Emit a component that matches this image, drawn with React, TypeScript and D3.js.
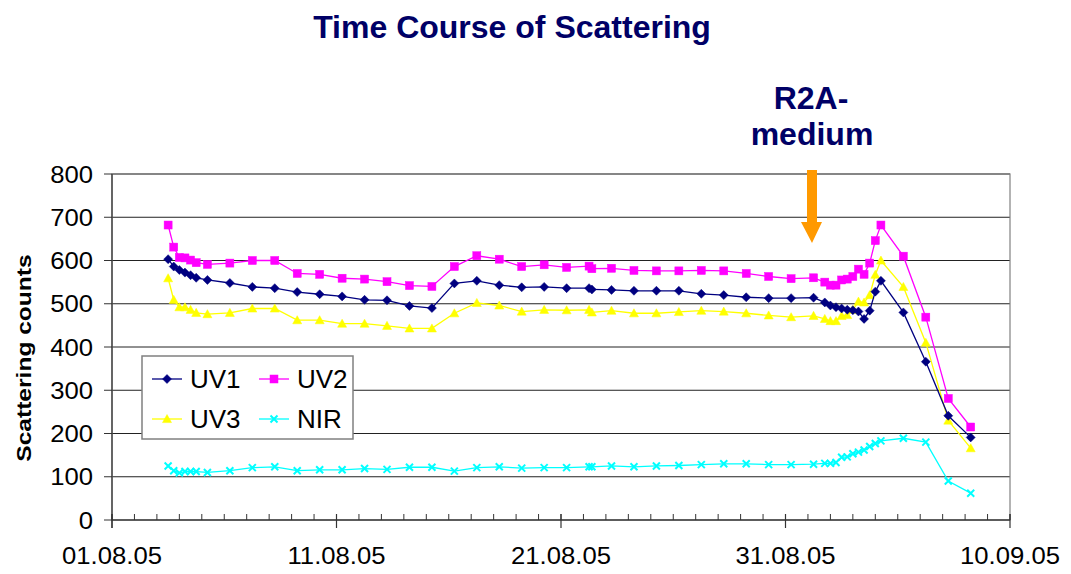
import React from "react";
import * as d3 from "d3";

const times: string[] = [
  "2005-08-03T12:00", "2005-08-03T18:00", "2005-08-04T00:00", "2005-08-04T06:00", "2005-08-04T12:00",
  "2005-08-04T18:00", "2005-08-05T06:00", "2005-08-06T06:00", "2005-08-07T06:00", "2005-08-08T06:00",
  "2005-08-09T06:00", "2005-08-10T06:00", "2005-08-11T06:00", "2005-08-12T06:00", "2005-08-13T06:00",
  "2005-08-14T06:00", "2005-08-15T06:00", "2005-08-16T06:00", "2005-08-17T06:00", "2005-08-18T06:00",
  "2005-08-19T06:00", "2005-08-20T06:00", "2005-08-21T06:00", "2005-08-22T06:00", "2005-08-22T09:00",
  "2005-08-23T06:00", "2005-08-24T06:00", "2005-08-25T06:00", "2005-08-26T06:00", "2005-08-27T06:00",
  "2005-08-28T06:00", "2005-08-29T06:00", "2005-08-30T06:00", "2005-08-31T06:00", "2005-09-01T06:00",
  "2005-09-01T18:00", "2005-09-02T00:00", "2005-09-02T06:00", "2005-09-02T12:00", "2005-09-02T18:00",
  "2005-09-03T00:00", "2005-09-03T06:00", "2005-09-03T12:00", "2005-09-03T18:00", "2005-09-04T00:00",
  "2005-09-04T06:00", "2005-09-05T06:00", "2005-09-06T06:00", "2005-09-07T06:00", "2005-09-08T06:00",
];

const uv1: number[] = [
  603, 586, 578, 572, 566, 560, 555, 548, 539, 536, 527, 522, 517, 509, 508, 495, 490, 547, 553,
  543, 538, 539, 536, 536, 533, 532, 530, 530, 530, 523, 520, 515, 513, 513,
  514, 503, 496, 492, 489, 486, 485, 482, 465, 484, 528, 553, 480, 366, 241, 191,
];
const uv2: number[] = [
  682, 631, 607, 606, 601, 595, 591, 594, 600, 600, 570, 568, 559, 557, 551, 542, 540, 586, 611,
  603, 586, 590, 584, 587, 581, 582, 577, 576, 576, 577, 576, 570, 563, 558,
  560, 550, 543, 543, 555, 557, 563, 580, 568, 594, 646, 682, 610, 469, 281, 215,
];
const uv3: number[] = [
  559, 509, 492, 492, 486, 479, 476, 479, 489, 489, 462, 462, 454, 454, 449, 443, 443, 478, 502,
  496, 482, 486, 485, 486, 480, 484, 478, 478, 481, 484, 482, 478, 473, 469,
  472, 465, 460, 460, 472, 474, 486, 505, 503, 520, 567, 600, 539, 410, 230, 166,
];
const nir: number[] = [
  125, 114, 109, 112, 112, 112, 110, 114, 121, 123, 114, 116, 116, 119, 117, 122, 122, 113, 121,
  123, 120, 121, 121, 123, 123, 125, 123, 125, 126, 128, 130, 130, 128, 128,
  129, 131, 131, 133, 145, 146, 153, 157, 162, 170, 177, 183, 189, 180, 90, 62,
];

const seriesNames = ["UV1", "UV2", "UV3", "NIR"];
const yTicks = [0, 100, 200, 300, 400, 500, 600, 700, 800];
const xTickLabels = ["01.08.05", "11.08.05", "21.08.05", "31.08.05", "10.09.05"];

const parseDate = d3.timeParse("%Y-%m-%dT%H:%M");
const parseLabel = d3.timeParse("%d.%m.%y");

const W = 1071;
const H = 574;
const left = 112;
const right = 1010;
const top = 174;
const bottom = 520;

const colors: Record<string, string> = { UV1: "#000080", UV2: "#FF00FF", UV3: "#FFFF00", NIR: "#00FFFF" };

function Marker({ name, x, y }: { name: string; x: number; y: number }) {
  const c = colors[name];
  if (name === "UV1") {
    const s = 4.5;
    return <path d={`M${x},${y - s}L${x + s},${y}L${x},${y + s}L${x - s},${y}Z`} fill={c} stroke={c} strokeWidth={0.5} />;
  }
  if (name === "UV2") {
    const s = 4;
    return <rect x={x - s} y={y - s} width={2 * s} height={2 * s} fill={c} stroke={c} strokeWidth={0.5} />;
  }
  if (name === "UV3") {
    const s = 4.5;
    return <path d={`M${x},${y - s}L${x + s},${y + s * 0.8}L${x - s},${y + s * 0.8}Z`} fill={c} stroke={c} strokeWidth={0.5} />;
  }
  const s = 3.5;
  return (
    <path d={`M${x - s},${y - s}L${x + s},${y + s}M${x - s},${y + s}L${x + s},${y - s}`} stroke={c} strokeWidth={2} fill="none" />
  );
}

function SText({
  x, y, sx = 1, size, anchor = "start", weight = "normal", fill = "#000", rotate = 0, dy, children,
}: {
  x: number; y: number; sx?: number; size: number; anchor?: string; weight?: string; fill?: string; rotate?: number; dy?: string; children: React.ReactNode;
}) {
  return (
    <text
      transform={`translate(${x},${y}) rotate(${rotate}) scale(${sx},1)`}
      textAnchor={anchor}
      fontSize={size}
      fontWeight={weight}
      fill={fill}
      dy={dy}
    >
      {children}
    </text>
  );
}

export default function App() {
  const dates = times.map((t) => parseDate(t) as Date);
  const xDomain = [parseLabel(xTickLabels[0]) as Date, parseLabel(xTickLabels[xTickLabels.length - 1]) as Date];
  const x = d3.scaleTime().domain(xDomain).range([left, right]);
  const y = d3.scaleLinear().domain([0, 800]).range([bottom, top]);

  const seriesData: Record<string, number[]> = { UV1: uv1, UV2: uv2, UV3: uv3, NIR: nir };
  const line = d3
    .line<[Date, number]>()
    .x((d) => x(d[0]))
    .y((d) => y(d[1]));

  const minorDays = d3.timeDay.range(xDomain[0], d3.timeDay.offset(xDomain[1], 1));
  const majorDates = xTickLabels.map((l) => parseLabel(l) as Date);

  const font = "Liberation Sans, Arial, sans-serif";
  const navy = "#000066";

  const drawOrder = ["NIR", "UV3", "UV2", "UV1"];

  return (
    <svg width={W} height={H} style={{ position: "absolute", left: 0, top: 0 }} fontFamily={font}>
      <rect x={0} y={0} width={W} height={H} fill="#fff" />
      {yTicks.map((t) => (
        <line key={"g" + t} x1={left} x2={right} y1={y(t)} y2={y(t)} stroke="#222" strokeWidth={1} />
      ))}
      <rect x={left} y={top} width={right - left} height={bottom - top} fill="none" stroke="#808080" strokeWidth={1.2} />
      <line x1={left} x2={left} y1={top} y2={bottom + 8} stroke="#333" strokeWidth={1.2} />
      {yTicks.map((t) => (
        <g key={"yt" + t}>
          <line x1={left - 8} x2={left} y1={y(t)} y2={y(t)} stroke="#333" strokeWidth={1} />
          <SText x={left - 19} y={y(t)} sx={1.07} size={24} anchor="end" dy="0.36em">
            {t}
          </SText>
        </g>
      ))}
      <line x1={left} x2={right} y1={bottom} y2={bottom} stroke="#333" strokeWidth={1.2} />
      {minorDays.map((d, i) => (
        <line key={"mt" + i} x1={x(d)} x2={x(d)} y1={bottom - 6} y2={bottom} stroke="#333" strokeWidth={1} />
      ))}
      {majorDates.map((d, i) => (
        <g key={"xt" + i}>
          <line x1={x(d)} x2={x(d)} y1={bottom - 6} y2={bottom + 8} stroke="#333" strokeWidth={1.2} />
          <SText x={x(d)} y={564} sx={1.07} size={24} anchor="middle">
            {xTickLabels[i]}
          </SText>
        </g>
      ))}
      {drawOrder.map((name) => {
        const pts: [Date, number][] = dates.map((d, i) => [d, seriesData[name][i]]);
        return (
          <g key={name}>
            <path d={line(pts) || ""} fill="none" stroke={colors[name]} strokeWidth={1.3} />
            {pts.map((p, i) => (
              <Marker key={i} name={name} x={x(p[0])} y={y(p[1])} />
            ))}
          </g>
        );
      })}
      <rect x={142} y={356} width={211} height={83} fill="#fff" stroke="#808080" strokeWidth={1.5} />
      {seriesNames.map((name, i) => {
        const col = i % 2;
        const row = Math.floor(i / 2);
        const lx = 152 + col * 107;
        const ly = 379 + row * 40;
        return (
          <g key={"lg" + name}>
            <line x1={lx} x2={lx + 30} y1={ly} y2={ly} stroke={colors[name]} strokeWidth={1.3} />
            <Marker name={name} x={lx + 15} y={ly} />
            <SText x={lx + 38} y={ly} size={26} dy="0.36em">
              {name}
            </SText>
          </g>
        );
      })}
      <text x={512} y={38} textAnchor="middle" fontSize={32} fontWeight="bold" fill={navy}>
        Time Course of Scattering
      </text>
      <SText x={31} y={358} size={21} sx={1.17} anchor="middle" weight="bold" rotate={-90}>
        Scattering counts
      </SText>
      <text x={811} y={109} textAnchor="middle" fontSize={32} fontWeight="bold" fill={navy}>
        R2A-
      </text>
      <text x={812} y={145} textAnchor="middle" fontSize={32} fontWeight="bold" fill={navy}>
        medium
      </text>
      <path d="M807,170 L817,170 L817,222 L822,222 L812,243 L801,222 L807,222 Z" fill="#FF9900" />
    </svg>
  );
}
